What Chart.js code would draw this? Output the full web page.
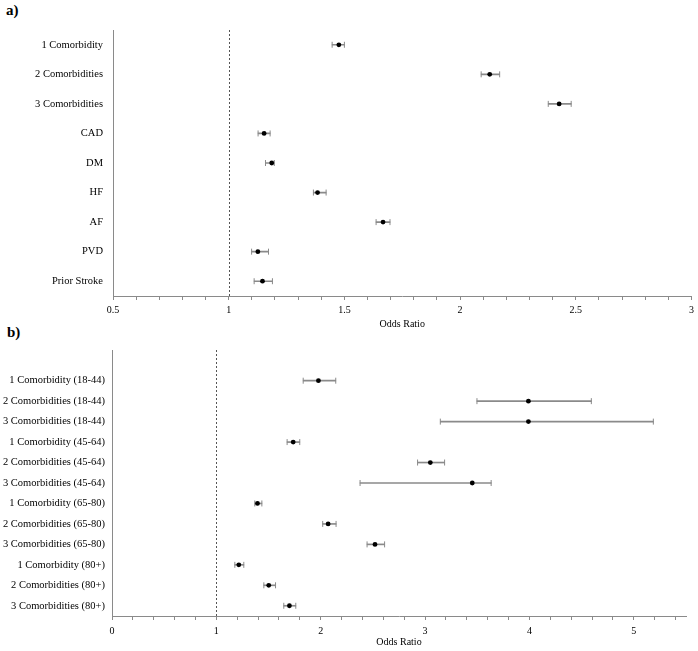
<!DOCTYPE html>
<html>
<head>
<meta charset="utf-8">
<script src="https://cdn.jsdelivr.net/npm/chart.js@4.4.1/dist/chart.umd.min.js"></script>
<style>
    body { margin: 0; background: #fff; }
    #wrap { position: relative; width: 698px; height: 651px; }
    canvas { position: absolute; left: 0; }
    .panel { position: absolute; font: bold 15px "Liberation Serif", serif; color: #000; }
</style>
</head>
<body>
<div id="wrap">
    <div class="panel" style="left:6px; top:2px;">a)</div>
    <div class="panel" style="left:7px; top:324px;">b)</div>
    <canvas id="chart-a" width="698" height="334" style="top:0;"></canvas>
    <canvas id="chart-b" width="698" height="317" style="top:334px;"></canvas>
</div>
<script>
    // region: data

    const catsA = ['1 Comorbidity', '2 Comorbidities', '3 Comorbidities', 'CAD', 'DM', 'HF', 'AF', 'PVD', 'Prior Stroke'];
    const orA = [1.476, 2.128, 2.428, 1.153, 1.186, 1.384, 1.667, 1.126, 1.146];
    const loA = [1.447, 2.091, 2.381, 1.127, 1.159, 1.366, 1.637, 1.099, 1.110];
    const hiA = [1.500, 2.171, 2.480, 1.179, 1.197, 1.421, 1.697, 1.172, 1.189];

    const catsB = ['1 Comorbidity (18-44)', '2 Comorbidities (18-44)', '3 Comorbidities (18-44)',
        '1 Comorbidity (45-64)', '2 Comorbidities (45-64)', '3 Comorbidities (45-64)',
        '1 Comorbidity (65-80)', '2 Comorbidities (65-80)', '3 Comorbidities (65-80)',
        '1 Comorbidity (80+)', '2 Comorbidities (80+)', '3 Comorbidities (80+)'];
    const orB = [1.978, 3.990, 3.990, 1.736, 3.050, 3.452, 1.394, 2.071, 2.520, 1.215, 1.502, 1.700];
    const loB = [1.832, 3.497, 3.146, 1.678, 2.928, 2.377, 1.368, 2.019, 2.444, 1.177, 1.455, 1.646];
    const hiB = [2.144, 4.593, 5.187, 1.799, 3.187, 3.633, 1.436, 2.147, 2.612, 1.263, 1.567, 1.761];

    const refLine = 1;
    const axisTitle = 'Odds Ratio';

    // endregion

    const grey = '#8a8a8a';
    const serif = '"Liberation Serif", "Times New Roman", serif';

    // dashed line at OR = 1
    const refLinePlugin = {
        id: 'refLine',
        afterDatasetsDraw(chart) {
            const x = chart.scales.x.getPixelForValue(refLine);
            const area = chart.chartArea;
            const ctx = chart.ctx;
            ctx.save();
            ctx.strokeStyle = '#555';
            ctx.lineWidth = 1;
            ctx.setLineDash([2, 2]);
            ctx.beginPath();
            ctx.moveTo(Math.round(x) + 0.5, area.top);
            ctx.lineTo(Math.round(x) + 0.5, area.bottom);
            ctx.stroke();
            ctx.restore();
        }
    };

    function makeForest(id, labels, cats, or, lo, hi, opt) {
        const offset = labels.length - cats.length;
        const bars = labels.map(function (l, i) {
            return i < offset ? null : [lo[i - offset], hi[i - offset]];
        });
        const pts = function (arr) {
            return arr.map(function (v, i) {
                return {x: v, y: cats[i]};
            });
        };
        const cap = {
            type: 'line', showLine: false, pointStyle: 'line', rotation: 90,
            pointRadius: 3, borderColor: grey, borderWidth: 1
        };

        return new Chart(document.getElementById(id), {
            type: 'bar',
            data: {
                labels: labels,
                datasets: [
                    {data: bars, backgroundColor: grey, barThickness: 1, order: 3},
                    Object.assign({data: pts(lo), order: 2}, cap),
                    Object.assign({data: pts(hi), order: 2}, cap),
                    {
                        type: 'line', showLine: false, data: pts(or), order: 1,
                        pointStyle: 'circle', pointRadius: 2.4,
                        backgroundColor: '#000', borderColor: '#000', borderWidth: 0
                    }
                ]
            },
            options: {
                indexAxis: 'y',
                responsive: false,
                animation: false,
                events: [],
                layout: {padding: {top: opt.padTop, right: opt.padRight, left: 0, bottom: 0}},
                plugins: {legend: {display: false}, tooltip: {enabled: false}},
                scales: {
                    x: {
                        type: 'linear',
                        min: opt.min,
                        max: opt.max,
                        afterFit: function (scale) {
                            scale.height = opt.xHeight;
                        },
                        // minor tick every opt.minor, label every opt.major
                        afterBuildTicks: function (scale) {
                            const ticks = [];
                            const n = Math.floor((opt.max - opt.min) / opt.minor + 1e-6);
                            for (let i = 0; i <= n; i++) {
                                ticks.push({value: Math.round((opt.min + i * opt.minor) * 1000) / 1000});
                            }
                            scale.ticks = ticks;
                        },
                        grid: {display: true, drawOnChartArea: false, tickLength: 4, color: grey},
                        border: {display: true, color: grey, width: 1},
                        ticks: {
                            autoSkip: false,
                            maxRotation: 0,
                            padding: opt.tickPad,
                            color: '#000',
                            font: {family: serif, size: 10},
                            callback: function (v) {
                                const r = Math.round(v / opt.major);
                                if (Math.abs(v / opt.major - r) > 1e-6) {
                                    return '';
                                }
                                return String(Math.round(v * 10) / 10);
                            }
                        },
                        title: {
                            display: true,
                            text: axisTitle,
                            color: '#000',
                            font: {family: serif, size: 10},
                            padding: {top: 0, bottom: opt.titlePad}
                        }
                    },
                    y: {
                        type: 'category',
                        afterFit: function (scale) {
                            scale.width = opt.yWidth;
                        },
                        grid: {display: false, drawTicks: false},
                        border: {display: true, color: grey, width: 1},
                        ticks: {
                            padding: opt.yPad,
                            color: '#000',
                            autoSkip: false,
                            font: {family: serif, size: 10.5}
                        }
                    }
                }
            },
            plugins: [refLinePlugin]
        });
    }

    makeForest('chart-a', catsA, catsA, orA, loA, hiA, {
        min: 0.5, max: 3, minor: 0.1, major: 0.5,
        padTop: 30, padRight: 6, xHeight: 38, tickPad: 4, titlePad: 4, yWidth: 113, yPad: 10
    });

    makeForest('chart-b', [''].concat(catsB), catsB, orB, loB, hiB, {
        min: 0, max: 5.5, minor: 0.2, major: 1,
        padTop: 16, padRight: 12, xHeight: 35, tickPad: 5, titlePad: 3, yWidth: 112, yPad: 7
    });
</script>
</body>
</html>
